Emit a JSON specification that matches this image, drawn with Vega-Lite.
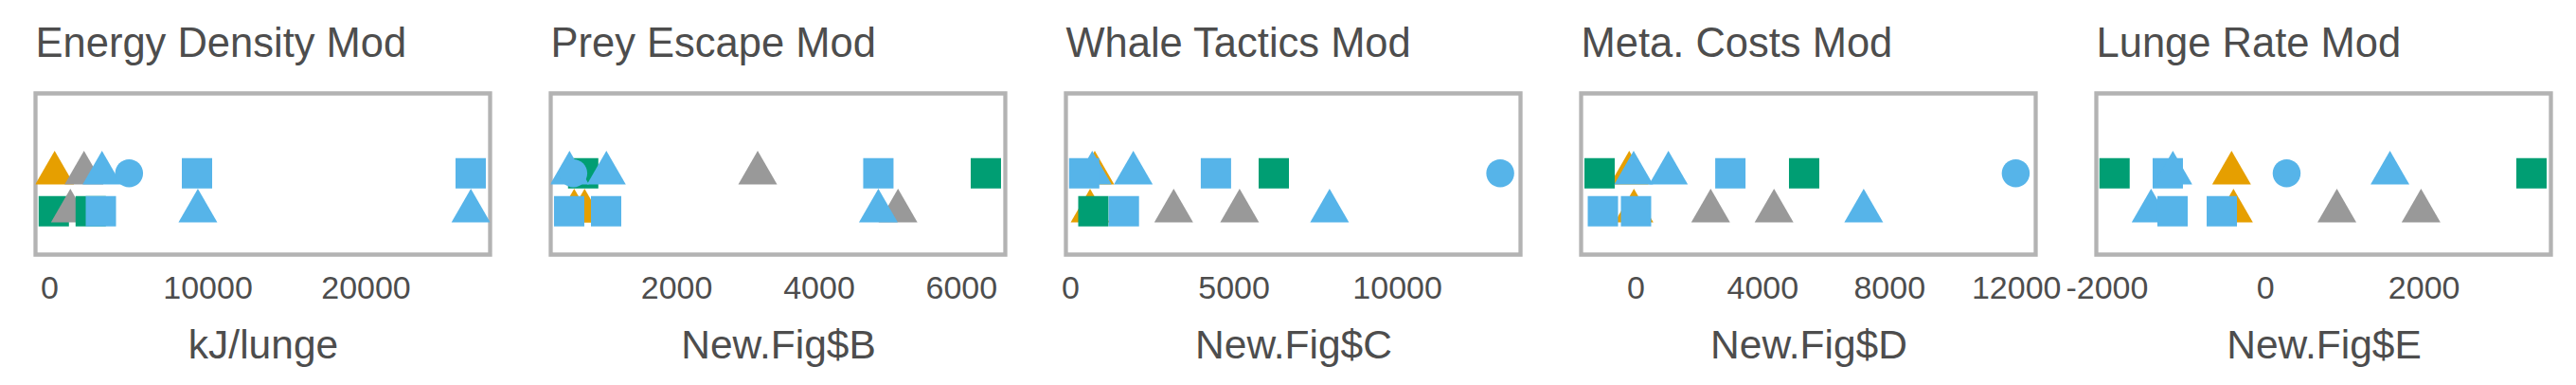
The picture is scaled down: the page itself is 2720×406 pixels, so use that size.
{
  "$schema": "https://vega.github.io/schema/vega-lite/v6.json",
  "background": "white",
  "padding": {"left": 34.5, "top": 22.5, "right": 0, "bottom": 0},
  "spacing": 64,
  "bounds": "flush",
  "data": {"values": [
    {"panel": "Energy Density Mod", "row": 1, "value": 337, "grp": "A", "shp": "T"},
    {"panel": "Energy Density Mod", "row": 1, "value": 2194, "grp": "B", "shp": "T"},
    {"panel": "Energy Density Mod", "row": 1, "value": 3332, "grp": "C", "shp": "T"},
    {"panel": "Energy Density Mod", "row": 1, "value": 5045, "grp": "C", "shp": "O"},
    {"panel": "Energy Density Mod", "row": 1, "value": 9340, "grp": "C", "shp": "S"},
    {"panel": "Energy Density Mod", "row": 1, "value": 26650, "grp": "C", "shp": "S"},
    {"panel": "Energy Density Mod", "row": 0, "value": 283, "grp": "D", "shp": "S"},
    {"panel": "Energy Density Mod", "row": 0, "value": 1331, "grp": "B", "shp": "T"},
    {"panel": "Energy Density Mod", "row": 0, "value": 2619, "grp": "D", "shp": "S"},
    {"panel": "Energy Density Mod", "row": 0, "value": 3260, "grp": "C", "shp": "S"},
    {"panel": "Energy Density Mod", "row": 0, "value": 9395, "grp": "C", "shp": "T"},
    {"panel": "Energy Density Mod", "row": 0, "value": 26660, "grp": "C", "shp": "T"},

    {"panel": "Prey Escape Mod", "row": 1, "value": 692, "grp": "D", "shp": "S"},
    {"panel": "Prey Escape Mod", "row": 1, "value": 500, "grp": "C", "shp": "T"},
    {"panel": "Prey Escape Mod", "row": 1, "value": 553, "grp": "C", "shp": "O"},
    {"panel": "Prey Escape Mod", "row": 1, "value": 1018, "grp": "C", "shp": "T"},
    {"panel": "Prey Escape Mod", "row": 1, "value": 3143, "grp": "B", "shp": "T"},
    {"panel": "Prey Escape Mod", "row": 1, "value": 4838, "grp": "C", "shp": "S"},
    {"panel": "Prey Escape Mod", "row": 1, "value": 6348, "grp": "D", "shp": "S"},
    {"panel": "Prey Escape Mod", "row": 0, "value": 566, "grp": "A", "shp": "T"},
    {"panel": "Prey Escape Mod", "row": 0, "value": 712, "grp": "A", "shp": "T"},
    {"panel": "Prey Escape Mod", "row": 0, "value": 495, "grp": "C", "shp": "S"},
    {"panel": "Prey Escape Mod", "row": 0, "value": 1014, "grp": "C", "shp": "S"},
    {"panel": "Prey Escape Mod", "row": 0, "value": 5114, "grp": "B", "shp": "T"},
    {"panel": "Prey Escape Mod", "row": 0, "value": 4838, "grp": "C", "shp": "T"},

    {"panel": "Whale Tactics Mod", "row": 1, "value": 754, "grp": "A", "shp": "T"},
    {"panel": "Whale Tactics Mod", "row": 1, "value": 676, "grp": "C", "shp": "T"},
    {"panel": "Whale Tactics Mod", "row": 1, "value": 430, "grp": "C", "shp": "S"},
    {"panel": "Whale Tactics Mod", "row": 1, "value": 1933, "grp": "C", "shp": "T"},
    {"panel": "Whale Tactics Mod", "row": 1, "value": 4460, "grp": "C", "shp": "S"},
    {"panel": "Whale Tactics Mod", "row": 1, "value": 6230, "grp": "D", "shp": "S"},
    {"panel": "Whale Tactics Mod", "row": 1, "value": 13157, "grp": "C", "shp": "O"},
    {"panel": "Whale Tactics Mod", "row": 0, "value": 610, "grp": "A", "shp": "T"},
    {"panel": "Whale Tactics Mod", "row": 0, "value": 711, "grp": "D", "shp": "S"},
    {"panel": "Whale Tactics Mod", "row": 0, "value": 1644, "grp": "C", "shp": "S"},
    {"panel": "Whale Tactics Mod", "row": 0, "value": 3168, "grp": "B", "shp": "T"},
    {"panel": "Whale Tactics Mod", "row": 0, "value": 5184, "grp": "B", "shp": "T"},
    {"panel": "Whale Tactics Mod", "row": 0, "value": 7936, "grp": "C", "shp": "T"},

    {"panel": "Meta. Costs Mod", "row": 1, "value": -197, "grp": "A", "shp": "T"},
    {"panel": "Meta. Costs Mod", "row": 1, "value": -1132, "grp": "D", "shp": "S"},
    {"panel": "Meta. Costs Mod", "row": 1, "value": -57, "grp": "C", "shp": "T"},
    {"panel": "Meta. Costs Mod", "row": 1, "value": 1039, "grp": "C", "shp": "T"},
    {"panel": "Meta. Costs Mod", "row": 1, "value": 2993, "grp": "C", "shp": "S"},
    {"panel": "Meta. Costs Mod", "row": 1, "value": 5319, "grp": "D", "shp": "S"},
    {"panel": "Meta. Costs Mod", "row": 1, "value": 11992, "grp": "C", "shp": "O"},
    {"panel": "Meta. Costs Mod", "row": 0, "value": -48, "grp": "A", "shp": "T"},
    {"panel": "Meta. Costs Mod", "row": 0, "value": -1027, "grp": "C", "shp": "S"},
    {"panel": "Meta. Costs Mod", "row": 0, "value": 18, "grp": "C", "shp": "S"},
    {"panel": "Meta. Costs Mod", "row": 0, "value": 2371, "grp": "B", "shp": "T"},
    {"panel": "Meta. Costs Mod", "row": 0, "value": 4370, "grp": "B", "shp": "T"},
    {"panel": "Meta. Costs Mod", "row": 0, "value": 7198, "grp": "C", "shp": "T"},

    {"panel": "Lunge Rate Mod", "row": 1, "value": -1901, "grp": "D", "shp": "S"},
    {"panel": "Lunge Rate Mod", "row": 1, "value": -1229, "grp": "C", "shp": "S"},
    {"panel": "Lunge Rate Mod", "row": 1, "value": -1165, "grp": "C", "shp": "T"},
    {"panel": "Lunge Rate Mod", "row": 1, "value": -424, "grp": "A", "shp": "T"},
    {"panel": "Lunge Rate Mod", "row": 1, "value": 271, "grp": "C", "shp": "O"},
    {"panel": "Lunge Rate Mod", "row": 1, "value": 1575, "grp": "C", "shp": "T"},
    {"panel": "Lunge Rate Mod", "row": 1, "value": 3361, "grp": "D", "shp": "S"},
    {"panel": "Lunge Rate Mod", "row": 0, "value": -1440, "grp": "C", "shp": "T"},
    {"panel": "Lunge Rate Mod", "row": 0, "value": -1169, "grp": "C", "shp": "S"},
    {"panel": "Lunge Rate Mod", "row": 0, "value": -400, "grp": "A", "shp": "T"},
    {"panel": "Lunge Rate Mod", "row": 0, "value": -547, "grp": "C", "shp": "S"},
    {"panel": "Lunge Rate Mod", "row": 0, "value": 905, "grp": "B", "shp": "T"},
    {"panel": "Lunge Rate Mod", "row": 0, "value": 1967, "grp": "B", "shp": "T"}
  ]},
  "hconcat": [
    {
      "width": 480, "height": 170,
      "title": "Energy Density Mod",
      "transform": [{"filter": "datum.panel === 'Energy Density Mod'"}],
      "mark": {"type": "point", "filled": true, "opacity": 1, "clip": true, "size": 1600, "strokeWidth": 0},
      "encoding": {
        "x": {"field": "value", "type": "quantitative", "scale": {"domain": [-873, 27877], "nice": false, "zero": false}, "axis": {"title": "kJ/lunge", "values": [0, 10000, 20000], "labelExpr": "'' + datum.value"}},
        "y": {"field": "row", "type": "quantitative", "scale": {"domain": [-1.145, 3.105], "nice": false, "zero": false}, "axis": null},
        "color": {"field": "grp", "type": "nominal", "scale": {"domain": ["A", "B", "C", "D"], "range": ["#E69F00", "#999999", "#56B4E9", "#009E73"]}, "legend": null},
        "shape": {"field": "shp", "type": "nominal", "scale": {"domain": ["T", "O", "S"], "range": ["M0,-1.1836L1.025,0.5918L-1.025,0.5918Z", "M-0.7375,0A0.7375,0.7375,0,1,0,0.7375,0A0.7375,0.7375,0,1,0,-0.7375,0Z", "M-0.8,-0.8H0.8V0.8H-0.8Z"]}, "legend": null}
      }
    },
    {
      "width": 480, "height": 170,
      "title": "Prey Escape Mod",
      "transform": [{"filter": "datum.panel === 'Prey Escape Mod'"}],
      "mark": {"type": "point", "filled": true, "opacity": 1, "clip": true, "size": 1600, "strokeWidth": 0},
      "encoding": {
        "x": {"field": "value", "type": "quantitative", "scale": {"domain": [236, 6621], "nice": false, "zero": false}, "axis": {"title": "New.Fig$B", "values": [2000, 4000, 6000], "labelExpr": "'' + datum.value"}},
        "y": {"field": "row", "type": "quantitative", "scale": {"domain": [-1.145, 3.105], "nice": false, "zero": false}, "axis": null},
        "color": {"field": "grp", "type": "nominal", "scale": {"domain": ["A", "B", "C", "D"], "range": ["#E69F00", "#999999", "#56B4E9", "#009E73"]}, "legend": null},
        "shape": {"field": "shp", "type": "nominal", "scale": {"domain": ["T", "O", "S"], "range": ["M0,-1.1836L1.025,0.5918L-1.025,0.5918Z", "M-0.7375,0A0.7375,0.7375,0,1,0,0.7375,0A0.7375,0.7375,0,1,0,-0.7375,0Z", "M-0.8,-0.8H0.8V0.8H-0.8Z"]}, "legend": null}
      }
    },
    {
      "width": 480, "height": 170,
      "title": "Whale Tactics Mod",
      "transform": [{"filter": "datum.panel === 'Whale Tactics Mod'"}],
      "mark": {"type": "point", "filled": true, "opacity": 1, "clip": true, "size": 1600, "strokeWidth": 0},
      "encoding": {
        "x": {"field": "value", "type": "quantitative", "scale": {"domain": [-129, 13777], "nice": false, "zero": false}, "axis": {"title": "New.Fig$C", "values": [0, 5000, 10000], "labelExpr": "'' + datum.value"}},
        "y": {"field": "row", "type": "quantitative", "scale": {"domain": [-1.145, 3.105], "nice": false, "zero": false}, "axis": null},
        "color": {"field": "grp", "type": "nominal", "scale": {"domain": ["A", "B", "C", "D"], "range": ["#E69F00", "#999999", "#56B4E9", "#009E73"]}, "legend": null},
        "shape": {"field": "shp", "type": "nominal", "scale": {"domain": ["T", "O", "S"], "range": ["M0,-1.1836L1.025,0.5918L-1.025,0.5918Z", "M-0.7375,0A0.7375,0.7375,0,1,0,0.7375,0A0.7375,0.7375,0,1,0,-0.7375,0Z", "M-0.8,-0.8H0.8V0.8H-0.8Z"]}, "legend": null}
      }
    },
    {
      "width": 480, "height": 170,
      "title": "Meta. Costs Mod",
      "transform": [{"filter": "datum.panel === 'Meta. Costs Mod'"}],
      "mark": {"type": "point", "filled": true, "opacity": 1, "clip": true, "size": 1600, "strokeWidth": 0},
      "encoding": {
        "x": {"field": "value", "type": "quantitative", "scale": {"domain": [-1714, 12622], "nice": false, "zero": false}, "axis": {"title": "New.Fig$D", "values": [0, 4000, 8000, 12000], "labelExpr": "'' + datum.value"}},
        "y": {"field": "row", "type": "quantitative", "scale": {"domain": [-1.145, 3.105], "nice": false, "zero": false}, "axis": null},
        "color": {"field": "grp", "type": "nominal", "scale": {"domain": ["A", "B", "C", "D"], "range": ["#E69F00", "#999999", "#56B4E9", "#009E73"]}, "legend": null},
        "shape": {"field": "shp", "type": "nominal", "scale": {"domain": ["T", "O", "S"], "range": ["M0,-1.1836L1.025,0.5918L-1.025,0.5918Z", "M-0.7375,0A0.7375,0.7375,0,1,0,0.7375,0A0.7375,0.7375,0,1,0,-0.7375,0Z", "M-0.8,-0.8H0.8V0.8H-0.8Z"]}, "legend": null}
      }
    },
    {
      "width": 480, "height": 170,
      "title": "Lunge Rate Mod",
      "transform": [{"filter": "datum.panel === 'Lunge Rate Mod'"}],
      "mark": {"type": "point", "filled": true, "opacity": 1, "clip": true, "size": 1600, "strokeWidth": 0},
      "encoding": {
        "x": {"field": "value", "type": "quantitative", "scale": {"domain": [-2131, 3606], "nice": false, "zero": false}, "axis": {"title": "New.Fig$E", "values": [-2000, 0, 2000], "labelExpr": "'' + datum.value"}},
        "y": {"field": "row", "type": "quantitative", "scale": {"domain": [-1.145, 3.105], "nice": false, "zero": false}, "axis": null},
        "color": {"field": "grp", "type": "nominal", "scale": {"domain": ["A", "B", "C", "D"], "range": ["#E69F00", "#999999", "#56B4E9", "#009E73"]}, "legend": null},
        "shape": {"field": "shp", "type": "nominal", "scale": {"domain": ["T", "O", "S"], "range": ["M0,-1.1836L1.025,0.5918L-1.025,0.5918Z", "M-0.7375,0A0.7375,0.7375,0,1,0,0.7375,0A0.7375,0.7375,0,1,0,-0.7375,0Z", "M-0.8,-0.8H0.8V0.8H-0.8Z"]}, "legend": null}
      }
    }
  ],
  "resolve": {"scale": {"x": "independent", "y": "independent"}},
  "config": {
    "font": "Liberation Sans",
    "view": {"stroke": "#b3b3b3", "strokeWidth": 4.3, "fill": "white"},
    "title": {"fontSize": 43.5, "fontWeight": "normal", "color": "#4d4d4d", "anchor": "start", "frame": "group", "offset": 28.7, "baseline": "alphabetic", "font": "Liberation Sans"},
    "axisX": {
      "ticks": false, "tickSize": 0, "domain": false, "grid": false,
      "labelFontSize": 34, "labelColor": "#4d4d4d", "labelPadding": 46, "labelBaseline": "alphabetic",
      "labelFlush": false, "labelOverlap": false, "labelBound": false, "labelFont": "Liberation Sans",
      "titleFontSize": 42.5, "titleFontWeight": "normal", "titleColor": "#4d4d4d", "titleBaseline": "alphabetic",
      "titleY": 109, "titlePadding": 0, "titleFont": "Liberation Sans"
    }
  }
}
